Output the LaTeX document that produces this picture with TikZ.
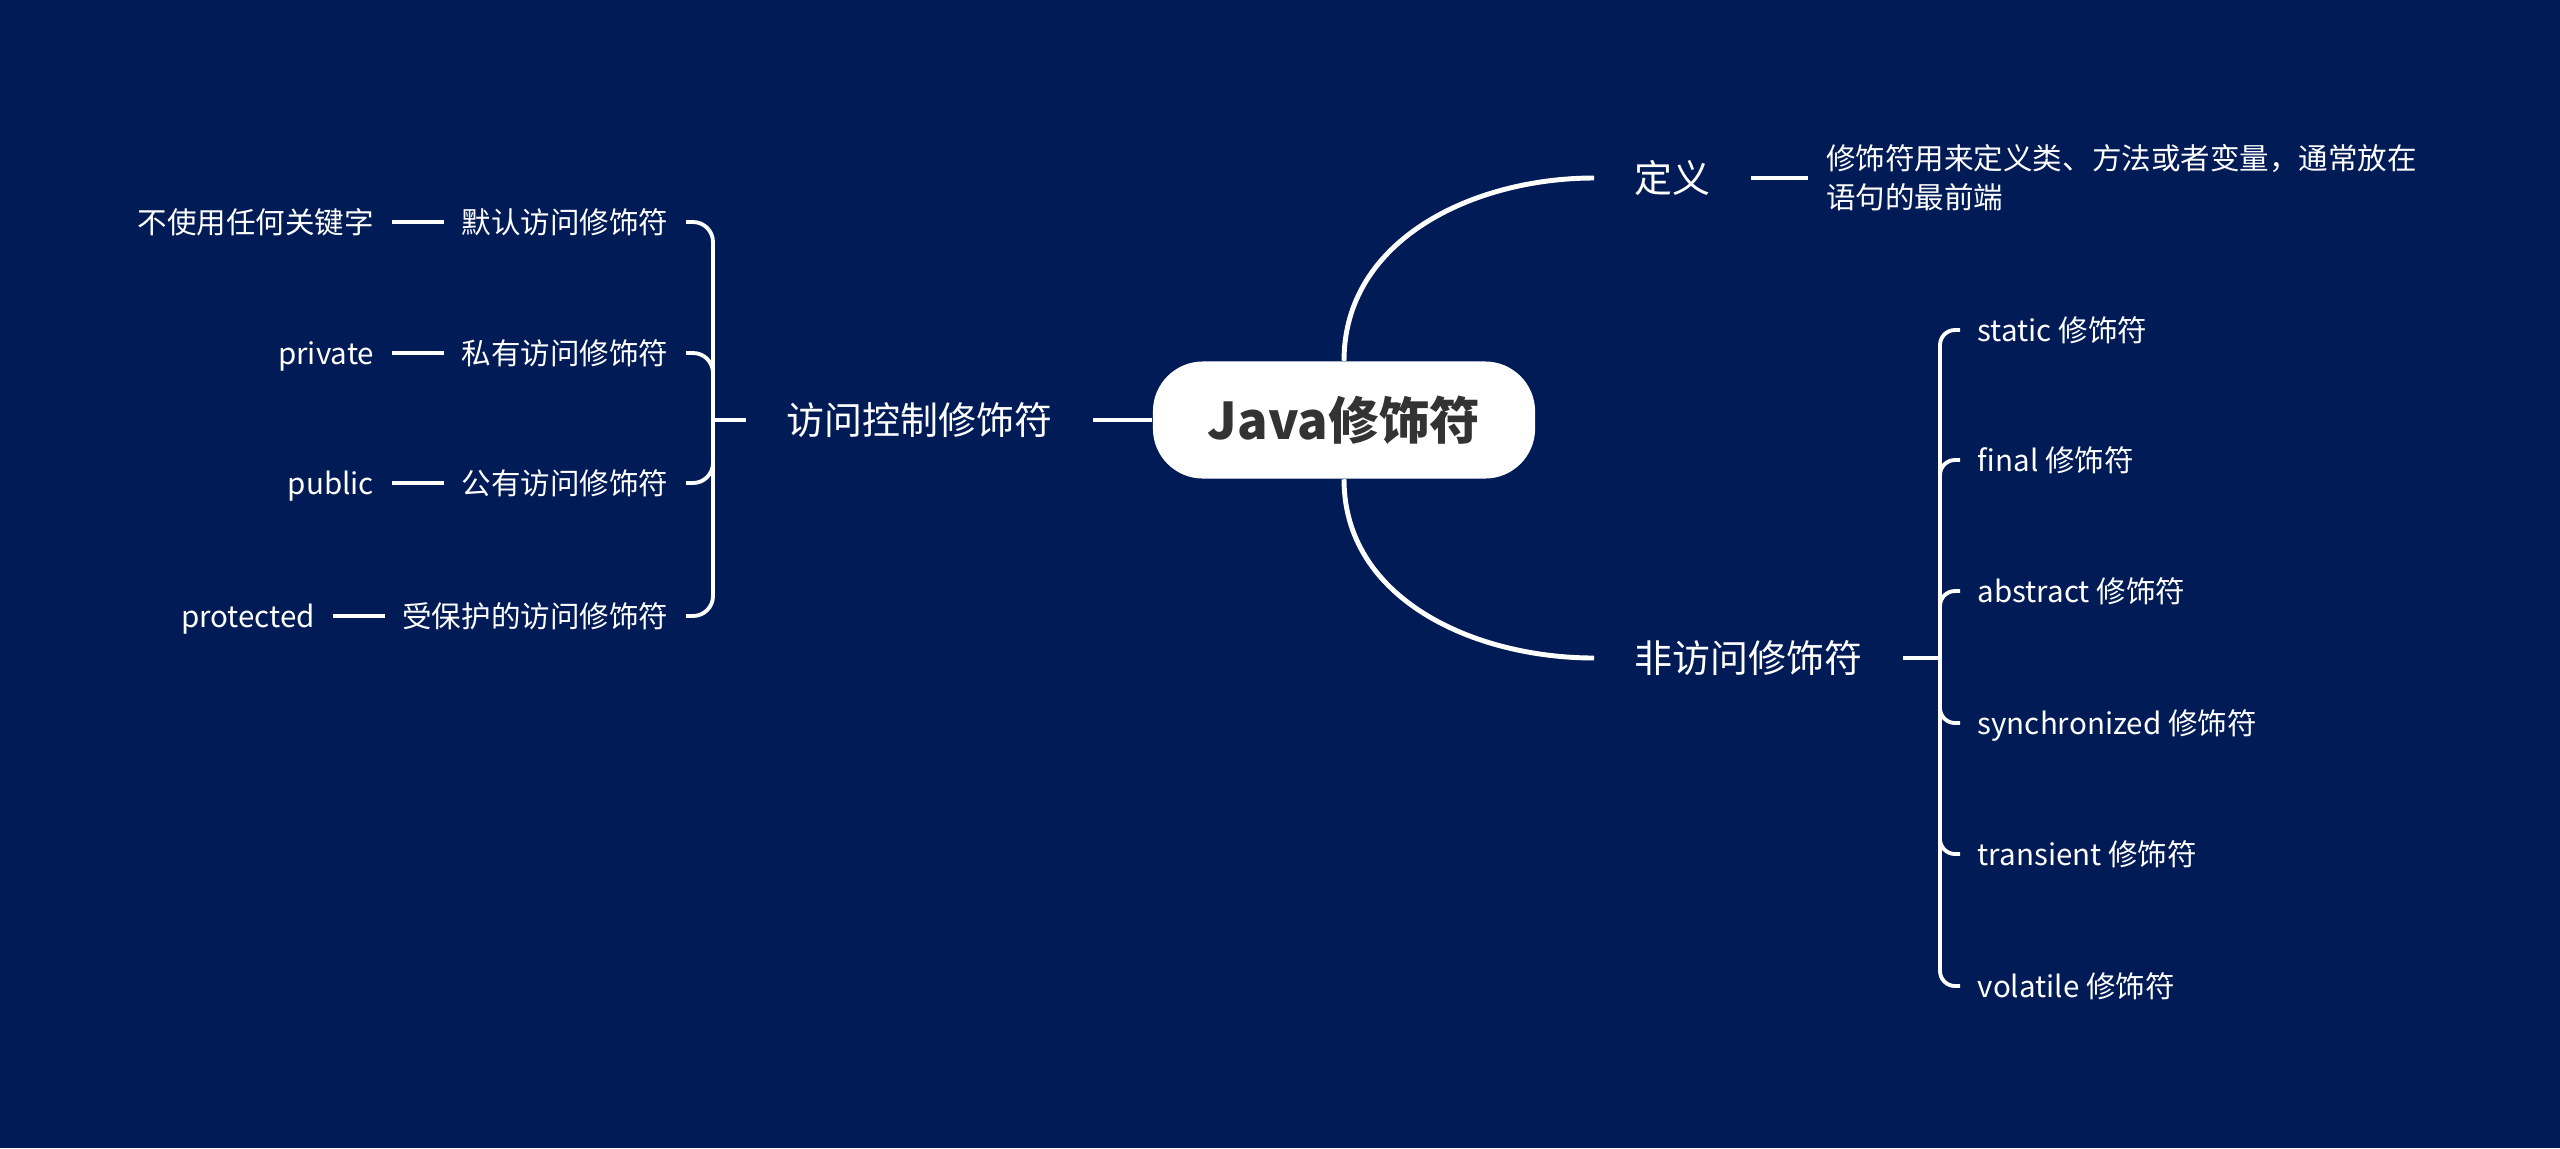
\documentclass[tikz,border=0pt]{standalone}
\usepackage{fontspec}
\setmainfont{Noto Sans CJK SC}
\usetikzlibrary{positioning}
\definecolor{navy}{RGB}{1,27,86}
\definecolor{rootgray}{RGB}{51,51,51}
\tikzset{
  root node/.style={
    fill=white,
    rounded corners=0.5cm,
    minimum width=3.82cm,
    minimum height=1.17cm,
    text=rootgray,
    font=\fontsize{14.4}{17}\selectfont\bfseries
  },
  branch node/.style={
    text=white,
    inner xsep=0.4cm,
    inner ysep=0.1cm,
    font=\fontsize{10.8}{13}\selectfont
  },
  leaf node/.style={
    text=white,
    inner xsep=0.17cm,
    inner ysep=0.08cm,
    text height=0.85em,
    text depth=0.2em,
    font=\fontsize{8.4}{11.1}\selectfont
  },
  link/.style={
    draw=white,
    line width=1.4pt
  },
  brace link/.style={
    draw=white,
    line width=1.1pt
  }
}

\begin{document}
\begin{tikzpicture}[x=0.01cm, y=-0.01cm]
    % 背景
    \fill[navy] (0,0) rectangle (2560,1148);
    \useasboundingbox (0,0) rectangle (2560,1148);

    % 中心主题
    \node[root node] (java) at (1344,420) {Java修饰符};

    % 一级分支
    \node[branch node, anchor=east] (access) at (1093,420) {访问控制修饰符};
    \node[branch node, anchor=west] (defn) at (1594,178) {定义};
    \node[branch node, anchor=west] (nonaccess) at (1594,658) {非访问修饰符};

    \draw[link] (java.west) -- (access.east);
    \draw[link] (java.north) to[out=90, in=180] (defn.west);
    \draw[link] (java.south) to[out=-90, in=180] (nonaccess.west);

    % 定义
    \node[leaf node, right=0.57cm of defn, align=left, text height=, text depth=] (desc)
      {修饰符用来定义类、方法或者变量，通常放在\\语句的最前端};
    \draw[link] (defn.east) -- (desc.west);

    % 访问控制修饰符
    \coordinate (lj) at (713,420);
    \draw[link] (access.west) -- (lj);

    \node[leaf node, anchor=east] (dflt) at (686,222) {默认访问修饰符};
    \node[leaf node, left=0.52cm of dflt] (nokey) {不使用任何关键字};
    \node[leaf node, anchor=east] (priv) at (686,353) {私有访问修饰符};
    \node[leaf node, left=0.52cm of priv] (privkw) {private};
    \node[leaf node, anchor=east] (publ) at (686,483) {公有访问修饰符};
    \node[leaf node, left=0.52cm of publ] (publkw) {public};
    \node[leaf node, anchor=east] (prot) at (686,616) {受保护的访问修饰符};
    \node[leaf node, left=0.52cm of prot] (protkw) {protected};

    \foreach \c in {dflt, priv, publ, prot} {
      \draw[brace link, rounded corners=0.2cm] (lj) |- (\c.east);
    }
    \draw[link] (nokey) -- (dflt);
    \draw[link] (privkw) -- (priv);
    \draw[link] (publkw) -- (publ);
    \draw[link] (protkw) -- (prot);

    % 非访问修饰符
    \coordinate (rj) at (1940,658);
    \draw[link] (nonaccess.east) -- (rj);

    \node[leaf node, anchor=west] (static) at (1960,330) {static 修饰符};
    \node[leaf node, anchor=west] (final) at (1960,460) {final 修饰符};
    \node[leaf node, anchor=west] (abstr) at (1960,591) {abstract 修饰符};
    \node[leaf node, anchor=west] (sync) at (1960,723) {synchronized 修饰符};
    \node[leaf node, anchor=west] (trans) at (1960,854) {transient 修饰符};
    \node[leaf node, anchor=west] (volat) at (1960,986) {volatile 修饰符};

    \foreach \c in {static, final, abstr, sync, trans, volat} {
      \draw[brace link, rounded corners=0.15cm] (rj) |- (\c.west);
    }

\end{tikzpicture}
\end{document}
